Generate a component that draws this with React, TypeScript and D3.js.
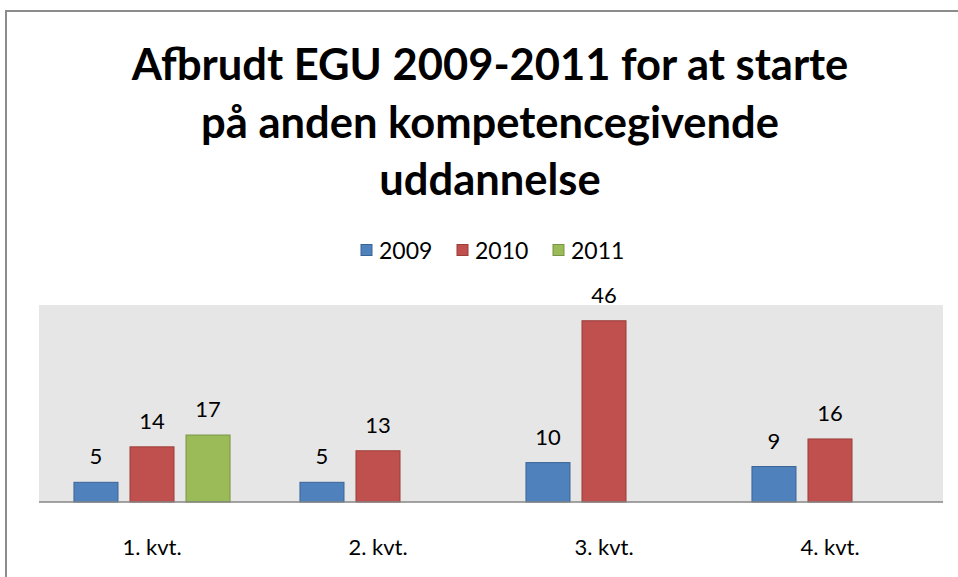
import React from "react";
import * as d3 from "d3";

const categories = ["1. kvt.", "2. kvt.", "3. kvt.", "4. kvt."];
const seriesNames = ["2009", "2010", "2011"];
const values2009 = [5, 5, 10, 9];
const values2010 = [14, 13, 46, 16];
const values2011: (number | null)[] = [17, null, null, null];
const titleLines = ["Afbrudt EGU 2009-2011 for at starte", "på anden kompetencegivende", "uddannelse"];
const yDomain = [0, 50];

const fills = ["#4F81BD", "#C0504D", "#9BBB59"];
const strokes = ["#3A6496", "#9B3D3A", "#7A9444"];

const W = 958;
const H = 577;
const plot = { left: 39, right: 943, top: 305, bottom: 502 };
const FONT = "Lato, 'Open Sans', sans-serif";

export default function App() {
  const seriesValues = [values2009, values2010, values2011];
  const x0 = d3
    .scaleBand<string>()
    .domain(categories)
    .range([plot.left, plot.right])
    .paddingInner(0.305)
    .paddingOuter(0.1525);
  const x1 = d3
    .scaleBand<string>()
    .domain(seriesNames)
    .range([0, x0.bandwidth()])
    .paddingInner(11 / 56)
    .paddingOuter(0);
  const y = d3.scaleLinear().domain(yDomain).range([plot.bottom, plot.top]);

  const legendX = [361, 457, 553];

  return (
    <svg
      width={W}
      height={H}
      style={{ position: "absolute", left: 0, top: 0, background: "#fff" }}
    >
      <rect x={0} y={0} width={W} height={H} fill="#fff" />
      <rect x={6} y={11} width={W + 20} height={H + 20} fill="none" stroke="#8c8c8c" strokeWidth={2} />
      {titleLines.map((t, i) => (
        <text
          key={i}
          x={490}
          y={80 + i * 57.5}
          textAnchor="middle"
          fontFamily={FONT}
          fontWeight="bold"
          fontSize={43.5}
          fill="#000"
        >
          {t}
        </text>
      ))}
      {seriesNames.map((s, i) => (
        <g key={s}>
          <rect x={legendX[i]} y={244.5} width={11} height={11} fill={fills[i]} stroke={strokes[i]} strokeWidth={1} />
          <text x={legendX[i] + 18} y={258.5} fontFamily={FONT} fontSize={23} fill="#000">
            {s}
          </text>
        </g>
      ))}
      <rect
        x={plot.left}
        y={plot.top}
        width={plot.right - plot.left}
        height={plot.bottom - plot.top}
        fill="#E6E6E6"
      />
      {categories.map((c, ci) => (
        <g key={c}>
          {seriesNames.map((s, si) => {
            const v = seriesValues[si][ci];
            if (v == null) return null;
            const bx = (x0(c) as number) + (x1(s) as number);
            const by = y(v);
            return (
              <g key={s}>
                <rect
                  x={bx + 0.5}
                  y={by}
                  width={x1.bandwidth() - 1}
                  height={plot.bottom - by}
                  fill={fills[si]}
                  stroke={strokes[si]}
                  strokeWidth={1}
                />
                <text
                  x={bx + x1.bandwidth() / 2}
                  y={by - 18}
                  textAnchor="middle"
                  fontFamily={FONT}
                  fontSize={22}
                  fill="#000"
                >
                  {v}
                </text>
              </g>
            );
          })}
          <text
            x={(x0(c) as number) + x0.bandwidth() / 2}
            y={555}
            textAnchor="middle"
            fontFamily={FONT}
            fontSize={22}
            fill="#000"
          >
            {c}
          </text>
        </g>
      ))}
      <line x1={plot.left} x2={plot.right} y1={plot.bottom} y2={plot.bottom} stroke="#868686" strokeWidth={1.5} />
    </svg>
  );
}
